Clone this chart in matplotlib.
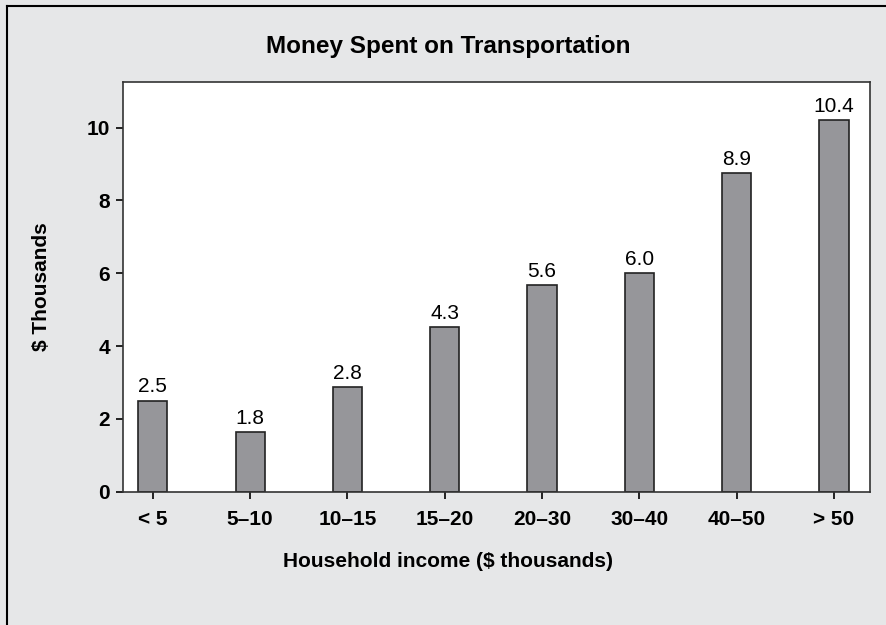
import matplotlib.pyplot as plt
from matplotlib.lines import Line2D
import numpy as np

# data
income = ['< 5', '5\u201310', '10\u201315', '15\u201320', '20\u201330', '30\u201340', '40\u201350', '> 50']
heights = [2.50, 1.63, 2.87, 4.53, 5.68, 6.0, 8.75, 10.21]
value_labels = ['2.5', '1.8', '2.8', '4.3', '5.6', '6.0', '8.9', '10.4']

plt.rcParams['font.family'] = ['Liberation Sans', 'DejaVu Sans']

bg = '#e6e7e8'
fig = plt.figure(figsize=(8.87, 6.25), dpi=100, facecolor=bg)
ax = fig.add_axes([122.7 / 887, 1 - 491.7 / 625, (870 - 122.7) / 887, (491.7 - 82) / 625])

x = np.arange(len(income))
ax.bar(x, heights, width=0.3, color='#96969a', edgecolor='#222222', linewidth=1.2, zorder=2)
for xi, h, lab in zip(x, heights, value_labels):
    ax.annotate(lab, (xi, h), xytext=(0, 3), textcoords='offset points',
                ha='center', va='bottom', fontsize=15)

ax.set_xlim(-0.31, 7.37)
ax.set_ylim(0, 11.25)
ax.set_yticks([0, 2, 4, 6, 8, 10])
ax.set_xticks(x)
ax.set_xticklabels(income)
ax.tick_params(direction='out', length=5, width=1.2, labelsize=15, pad=4)
ax.tick_params(axis='x', pad=8)
for t in ax.get_xticklabels() + ax.get_yticklabels():
    t.set_fontweight('bold')
for s in ax.spines.values():
    s.set_linewidth(1.2)
    s.set_color('#333333')

ax.set_xlabel('Household income ($ thousands)', fontsize=15, fontweight='bold')
ax.xaxis.set_label_coords((448 - 122.7) / 747.3, -0.148)
ax.set_ylabel('$ Thousands', fontsize=15, fontweight='bold', labelpad=26)
fig.text(448 / 887, 1 - 47 / 625, 'Money Spent on Transportation', ha='center', va='center',
         fontsize=17.5, fontweight='bold')

# outer frame (left and top edges only)
fig.add_artist(Line2D([7 / 887, 7 / 887], [0, 1 - 6 / 625], color='black', linewidth=1.5))
fig.add_artist(Line2D([7 / 887, 1], [1 - 6 / 625, 1 - 6 / 625], color='black', linewidth=1.5))

fig.savefig('out.png', dpi=100, facecolor=bg)
